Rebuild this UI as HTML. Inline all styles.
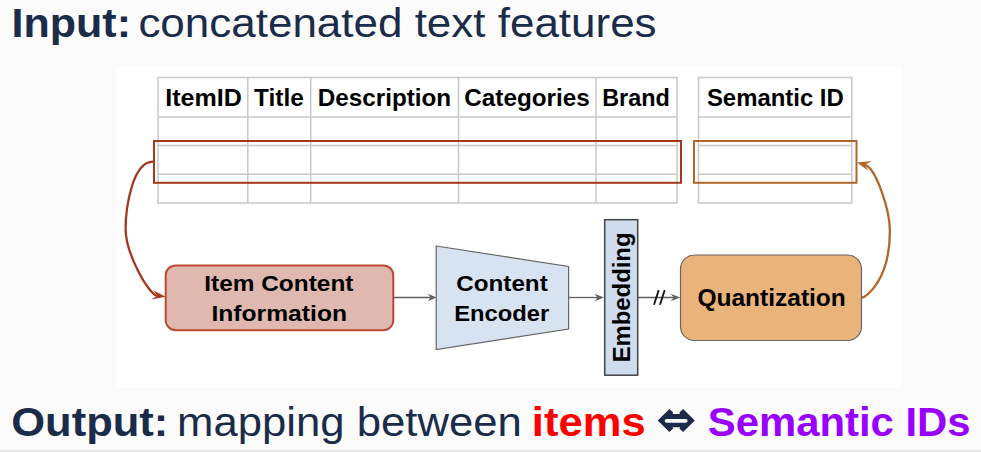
<!DOCTYPE html>
<html><head><meta charset="utf-8">
<style>
html,body{margin:0;padding:0;width:981px;height:452px;overflow:hidden;background:#fbfbfb;}
svg{display:block;position:absolute;left:0;top:0;}
text{font-family:"Liberation Sans",sans-serif;}
</style></head>
<body>
<svg width="981" height="452" viewBox="0 0 981 452">
  <rect x="0" y="0" width="981" height="452" fill="#fbfbfb"/>
  <rect x="0" y="450" width="981" height="2" fill="#e8e8e8"/>
  <!-- header -->
  <g fill="#1b2b4a">
    <text id="t1" x="11.60" y="37" font-size="41.5" font-weight="bold" textLength="119.40" lengthAdjust="spacingAndGlyphs">Input:</text>
    <text id="t2" x="138.40" y="37" font-size="40.5" textLength="518.20" lengthAdjust="spacingAndGlyphs">concatenated text features</text>
  </g>
  <!-- white diagram panel -->
  <rect x="116" y="66" width="785" height="322" fill="#ffffff"/>

  <!-- tables -->
  <g stroke="#c8c8c8" stroke-width="1.5" fill="none">
    <rect x="158" y="77.5" width="519" height="125.5"/>
    <line x1="158" y1="117" x2="677" y2="117"/>
    <line x1="158" y1="145.5" x2="677" y2="145.5"/>
    <line x1="158" y1="174.2" x2="677" y2="174.2"/>
    <line x1="247.8" y1="77.5" x2="247.8" y2="203"/>
    <line x1="310.7" y1="77.5" x2="310.7" y2="203"/>
    <line x1="458.5" y1="77.5" x2="458.5" y2="203"/>
    <line x1="596" y1="77.5" x2="596" y2="203"/>
    <rect x="698.5" y="77.5" width="153.3" height="125.5"/>
    <line x1="698.5" y1="117" x2="851.8" y2="117"/>
    <line x1="698.5" y1="145.5" x2="851.8" y2="145.5"/>
    <line x1="698.5" y1="174.2" x2="851.8" y2="174.2"/>
  </g>
  <g fill="#000" font-weight="bold" font-size="24">
    <text id="t3" x="165.20" y="106" textLength="76.60" lengthAdjust="spacingAndGlyphs">ItemID</text>
    <text id="t4" x="254.12" y="106" textLength="49.76" lengthAdjust="spacingAndGlyphs">Title</text>
    <text id="t5" x="317.72" y="106" textLength="133.48" lengthAdjust="spacingAndGlyphs">Description</text>
    <text id="t6" x="464.28" y="106" textLength="125.52" lengthAdjust="spacingAndGlyphs">Categories</text>
    <text id="t7" x="602.24" y="106" textLength="67.56" lengthAdjust="spacingAndGlyphs">Brand</text>
    <text id="t8" x="706.92" y="106" textLength="136.88" lengthAdjust="spacingAndGlyphs">Semantic ID</text>
  </g>
  <!-- highlight rects -->
  <rect x="154" y="141" width="527" height="41.8" fill="none" stroke="#a3381e" stroke-width="2"/>
  <rect x="694" y="141" width="162.5" height="41.8" fill="none" stroke="#b2662a" stroke-width="2"/>

  <!-- curves -->
  <path d="M153,161.7 C131.6,161.7 125.6,210.6 125.6,229 C125.6,252.9 148.4,294.8 157.3,295.8" fill="none" stroke="#a3381e" stroke-width="2.3"/>
  <path d="M165.6,296.8 L153.2,290.2 L157.5,295.7 L151.1,299.6 Z" fill="#a3381e"/>
  <path d="M861.7,297.6 C865.25,297.6 889.9,281.4 889.9,231 C889.9,209.8 875.9,168 864.7,164.7" fill="none" stroke="#b2662a" stroke-width="2.3"/>
  <path d="M856.9,162.4 L872,161 L864.7,164.7 L868.5,170.9 Z" fill="#b2662a"/>

  <!-- Item content box -->
  <rect x="165.7" y="265.4" width="227.6" height="64.8" rx="10" fill="#dfb8af" stroke="#bb4a30" stroke-width="2"/>
  <g fill="#000" font-weight="bold" font-size="22.2">
    <text id="t9" x="204.30" y="291.4" textLength="149.12" lengthAdjust="spacingAndGlyphs">Item Content</text>
    <text id="t10" x="211.40" y="320.7" textLength="135.64" lengthAdjust="spacingAndGlyphs">Information</text>
  </g>

  <!-- arrows -->
  <g stroke="#606060" stroke-width="1.3" fill="none">
    <line x1="394" y1="297.5" x2="432" y2="297.5"/>
    <line x1="568.5" y1="297.5" x2="600" y2="297.5"/>
    <line x1="638" y1="297.5" x2="676" y2="297.5"/>
  </g>
  <g fill="#606060">
    <path d="M436.5,297.5 L427.8,293.7 L430.6,297.5 L427.8,301.3 Z"/>
    <path d="M604,297.5 L594.5,293.7 L597.6,297.5 L594.5,301.3 Z"/>
    <path d="M680.3,297.5 L670.5,293.8 L673.8,297.5 L670.5,301.3 Z"/>
  </g>
  <g stroke="#111" stroke-width="1.8">
    <line x1="654" y1="304.7" x2="658.7" y2="290.1"/>
    <line x1="660" y1="304.7" x2="664.7" y2="290.1"/>
  </g>

  <!-- encoder -->
  <path d="M436.2,246 L568.6,266.5 L568.6,329 L436.2,349.5 Z" fill="#d8e3f2" stroke="#666" stroke-width="1.2"/>
  <g fill="#000" font-weight="bold" font-size="22.2">
    <text id="t11" x="456.20" y="291.4" textLength="91.58" lengthAdjust="spacingAndGlyphs">Content</text>
    <text id="t12" x="454.18" y="320.6" textLength="95.04" lengthAdjust="spacingAndGlyphs">Encoder</text>
  </g>

  <!-- embedding -->
  <rect x="604.7" y="219.7" width="33" height="155.5" fill="#cfdcee" stroke="#444" stroke-width="1.5"/>
  <text id="t13" transform="translate(629.8,362.3) rotate(-90)" x="0" y="0" fill="#000" font-weight="bold" font-size="23.2" textLength="129.8" lengthAdjust="spacingAndGlyphs">Embedding</text>

  <!-- quantization -->
  <rect x="680.5" y="255" width="181" height="85.5" rx="14" fill="#eab379" stroke="#666" stroke-width="1.2"/>
  <text id="t14" x="697.42" y="305.8" fill="#000" font-weight="bold" font-size="23.6" textLength="148.40" lengthAdjust="spacingAndGlyphs">Quantization</text>

  <!-- output line -->
  <g font-size="40.5">
    <text id="t15" x="11.24" y="436" fill="#1b2b4a" font-weight="bold" font-size="41.5" textLength="157.04" lengthAdjust="spacingAndGlyphs">Output:</text>
    <text id="t16" x="177.12" y="436" fill="#1b2b4a" textLength="344.80" lengthAdjust="spacingAndGlyphs">mapping between</text>
    <text id="t17" x="531.88" y="436" fill="#ff0000" font-weight="bold" font-size="41.5" textLength="113.80" lengthAdjust="spacingAndGlyphs">items</text>
    <text id="t18" x="707.76" y="436" fill="#9900ff" font-weight="bold" font-size="41.5" textLength="262.84" lengthAdjust="spacingAndGlyphs">Semantic IDs</text>
  </g>
  <!-- double arrow -->
  <path d="M657.7,420.5 L669.4,408.9 L673.2,412.6 L672.6,414 L680,414 L679.4,412.6 L683.1,408.9 L694.8,420.5 L683.1,432.1 L679.4,428.4 L680,427.2 L672.6,427.2 L673.2,428.4 L669.4,432.1 Z" fill="#1b2b4a"/>
  <rect x="664.7" y="418.9" width="22.9" height="3.8" rx="1.9" fill="#fbfbfb"/>
</svg>
</body></html>
